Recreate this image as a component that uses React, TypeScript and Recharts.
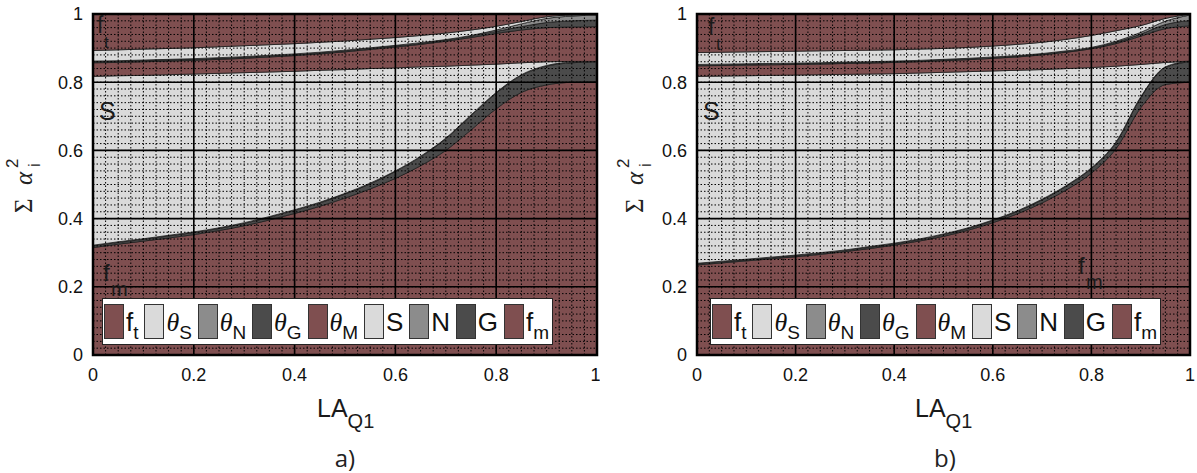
import React from "react";
import {
  ComposedChart,
  Area,
  XAxis,
  YAxis,
  CartesianGrid,
  ReferenceArea,
  ReferenceLine,
} from "recharts";

// LA_Q1 sample positions
const laQ1 = [
  0, 0.05, 0.1, 0.15, 0.2, 0.25, 0.3, 0.35, 0.4, 0.45, 0.5, 0.55, 0.6, 0.65,
  0.7, 0.75, 0.8, 0.85, 0.9, 0.95, 1,
];

const xTicks = [0, 0.2, 0.4, 0.6, 0.8, 1];
const yTicks = [0, 0.2, 0.4, 0.6, 0.8, 1];
// dotted hatch grid
const minorXTicks = Array.from({ length: 39 }, (_, i) => (i + 1) / 40);
const minorYTicks = Array.from({ length: 49 }, (_, i) => (i + 1) / 50);

// panel a) — upper edge of each stacked layer (cumulative sum of alpha^2)
const fmTopA = [0.315, 0.325, 0.334, 0.343, 0.353, 0.365, 0.379, 0.396, 0.415, 0.436, 0.46, 0.487, 0.518, 0.555, 0.6, 0.66, 0.722, 0.77, 0.792, 0.8, 0.802];
const gTopA = [0.32, 0.33, 0.339, 0.349, 0.359, 0.371, 0.386, 0.404, 0.424, 0.446, 0.472, 0.502, 0.538, 0.581, 0.634, 0.702, 0.768, 0.82, 0.847, 0.857, 0.86];
const nTopA = [0.322, 0.332, 0.341, 0.351, 0.361, 0.373, 0.388, 0.406, 0.426, 0.448, 0.474, 0.504, 0.54, 0.583, 0.636, 0.704, 0.77, 0.822, 0.849, 0.859, 0.861];
const sTopA = [0.817, 0.819, 0.82, 0.822, 0.824, 0.826, 0.828, 0.83, 0.832, 0.835, 0.837, 0.84, 0.842, 0.845, 0.847, 0.85, 0.853, 0.857, 0.86, 0.861, 0.861];
const thMTopA = [0.857, 0.858, 0.86, 0.862, 0.864, 0.867, 0.87, 0.874, 0.878, 0.883, 0.889, 0.896, 0.903, 0.911, 0.92, 0.931, 0.943, 0.953, 0.96, 0.962, 0.963];
const thGTopA = [0.86, 0.861, 0.863, 0.865, 0.867, 0.87, 0.873, 0.877, 0.881, 0.886, 0.892, 0.899, 0.906, 0.914, 0.923, 0.935, 0.949, 0.963, 0.975, 0.98, 0.982];
const thNTopA = [0.862, 0.863, 0.865, 0.867, 0.869, 0.872, 0.875, 0.879, 0.883, 0.888, 0.894, 0.901, 0.908, 0.916, 0.925, 0.937, 0.953, 0.971, 0.987, 0.994, 0.997];
const thSTopA = [0.893, 0.895, 0.897, 0.899, 0.901, 0.904, 0.907, 0.91, 0.913, 0.917, 0.921, 0.926, 0.931, 0.937, 0.944, 0.953, 0.964, 0.978, 0.992, 0.997, 0.999];

// panel b)
const fmTopB = [0.264, 0.27, 0.276, 0.282, 0.288, 0.295, 0.303, 0.312, 0.322, 0.334, 0.348, 0.366, 0.388, 0.414, 0.446, 0.485, 0.533, 0.605, 0.725, 0.793, 0.8];
const gTopB = [0.267, 0.273, 0.279, 0.285, 0.291, 0.298, 0.306, 0.316, 0.326, 0.338, 0.353, 0.371, 0.394, 0.421, 0.455, 0.496, 0.547, 0.623, 0.755, 0.843, 0.86];
const nTopB = [0.269, 0.275, 0.281, 0.287, 0.293, 0.3, 0.308, 0.318, 0.328, 0.34, 0.355, 0.373, 0.396, 0.423, 0.457, 0.498, 0.549, 0.625, 0.757, 0.845, 0.862];
const sTopB = [0.817, 0.818, 0.819, 0.82, 0.821, 0.822, 0.823, 0.824, 0.825, 0.827, 0.829, 0.831, 0.833, 0.835, 0.837, 0.84, 0.843, 0.847, 0.852, 0.858, 0.862];
const thMTopB = [0.848, 0.849, 0.85, 0.851, 0.852, 0.853, 0.855, 0.856, 0.858, 0.86, 0.863, 0.866, 0.87, 0.874, 0.88, 0.888, 0.898, 0.913, 0.935, 0.957, 0.965];
const thGTopB = [0.85, 0.851, 0.852, 0.853, 0.854, 0.855, 0.857, 0.858, 0.86, 0.862, 0.865, 0.868, 0.872, 0.876, 0.882, 0.89, 0.9, 0.917, 0.941, 0.969, 0.981];
const thNTopB = [0.852, 0.853, 0.854, 0.855, 0.856, 0.857, 0.859, 0.86, 0.862, 0.864, 0.867, 0.87, 0.874, 0.878, 0.884, 0.892, 0.902, 0.92, 0.946, 0.979, 0.997];
const thSTopB = [0.887, 0.888, 0.889, 0.89, 0.891, 0.892, 0.893, 0.894, 0.895, 0.897, 0.899, 0.902, 0.906, 0.911, 0.917, 0.926, 0.937, 0.951, 0.966, 0.987, 0.999];

const RED = "#7f4f50";
const LIGHT = "#dadada";
const MID = "#8c8c8c";
const DARK = "#4b4b4b";

// bottom to top
const layers = [
  { key: "fm", base: "f", sub: "m", greek: false, color: RED },
  { key: "g", base: "G", sub: "", greek: false, color: DARK },
  { key: "n", base: "N", sub: "", greek: false, color: MID },
  { key: "s", base: "S", sub: "", greek: false, color: LIGHT },
  { key: "thM", base: "θ", sub: "M", greek: true, color: RED },
  { key: "thG", base: "θ", sub: "G", greek: true, color: DARK },
  { key: "thN", base: "θ", sub: "N", greek: true, color: MID },
  { key: "thS", base: "θ", sub: "S", greek: true, color: LIGHT },
  { key: "ft", base: "f", sub: "t", greek: false, color: RED },
];

const buildRows = (tops: number[][]) =>
  laQ1.map((x, i) => {
    const row: any = { x };
    let lo = 0;
    layers.forEach((l, j) => {
      const hi = j < tops.length ? tops[j][i] : 1;
      row[l.key] = [lo, hi];
      lo = hi;
    });
    return row;
  });

const rowsA = buildRows([fmTopA, gTopA, nTopA, sTopA, thMTopA, thGTopA, thNTopA, thSTopA]);
const rowsB = buildRows([fmTopB, gTopB, nTopB, sTopB, thMTopB, thGTopB, thNTopB, thSTopB]);

const SANS = "'Liberation Sans', Arial, sans-serif";
const SERIF = "'Liberation Serif', 'Times New Roman', serif";
const tickStyle = { fill: "#111", fontSize: 18, fontFamily: SANS };

function Panel({ rows, width, yAxisWidth, rightMargin }: any) {
  return (
    <ComposedChart
      width={width}
      height={473}
      data={rows}
      margin={{ top: 14, right: rightMargin, bottom: 0, left: 0 }}
    >
      <XAxis
        dataKey="x"
        type="number"
        domain={[0, 1]}
        ticks={xTicks}
        height={118}
        tickSize={0}
        tickMargin={13}
        axisLine={false}
        tick={tickStyle}
      />
      <YAxis
        type="number"
        domain={[0, 1]}
        ticks={yTicks}
        width={yAxisWidth}
        tickSize={0}
        tickMargin={10}
        axisLine={false}
        tick={tickStyle}
      />

      {layers.map((l) => (
        <Area
          key={l.key}
          dataKey={l.key}
          type="monotone"
          fill={l.color}
          fillOpacity={1}
          stroke="#1e1e1e"
          strokeWidth={0.8}
          dot={false}
          activeDot={false}
          isAnimationActive={false}
        />
      ))}

      {/* dotted hatch */}
      {minorXTicks.map((v) => (
        <ReferenceLine
          key={`mx${v}`}
          x={v}
          stroke="#000"
          strokeOpacity={1}
          strokeDasharray="1.5 2"
          strokeWidth={1}
          zIndex={500}
        />
      ))}
      {minorYTicks.map((v) => (
        <ReferenceLine
          key={`my${v}`}
          y={v}
          stroke="#000"
          strokeOpacity={1}
          strokeDasharray="1.5 2"
          strokeWidth={1}
          zIndex={500}
        />
      ))}
      <CartesianGrid stroke="#000" strokeWidth={1.6} zIndex={510} />
      <ReferenceArea
        x1={0}
        x2={1}
        y1={0}
        y2={1}
        fill="none"
        stroke="#000"
        strokeWidth={2.5}
        ifOverflow="visible"
        zIndex={520}
      />
    </ComposedChart>
  );
}

function LegendBox({ left }: { left: number }) {
  const order = [...layers].reverse();
  return (
    <div
      style={{
        position: "absolute",
        left,
        top: 298,
        width: 451,
        height: 47,
        boxSizing: "border-box",
        background: "#fff",
        border: "1.5px solid #222",
        display: "flex",
        alignItems: "center",
        justifyContent: "space-between",
        padding: "0 3px 0 1px",
      }}
    >
      {order.map((l) => (
        <div key={l.key} style={{ display: "flex", alignItems: "flex-start", height: 35 }}>
          <span
            style={{
              width: 20,
              height: 35,
              background: l.color,
              border: "1px solid #333",
              boxSizing: "border-box",
              marginRight: 2,
            }}
          />
          <span
            style={{
              fontFamily: l.greek ? SERIF : SANS,
              fontStyle: l.greek ? "italic" : "normal",
              fontSize: 26,
              lineHeight: "35px",
              color: "#111",
              position: "relative",
              top: 1,
              whiteSpace: "nowrap",
            }}
          >
            {l.base}
            {l.sub && (
              <span
                style={{
                  fontFamily: SANS,
                  fontStyle: "normal",
                  fontSize: 19,
                  position: "relative",
                  top: 8,
                }}
              >
                {l.sub}
              </span>
            )}
          </span>
        </div>
      ))}
    </div>
  );
}

function Annotations() {
  const t = { fontFamily: SANS, fill: "#1a1a1a" };
  const yTitle = (bx: number) => (
    <g>
      <text transform={`translate(${bx},213) rotate(-90)`} fontFamily={SERIF} fontSize={25} fill="#222">
        Σ
      </text>
      <text transform={`translate(${bx},185) rotate(-90)`} fontFamily={SERIF} fontStyle="italic" fontSize={25} fill="#222">
        α
      </text>
      <text transform={`translate(${bx + 8},167) rotate(-90)`} fontFamily={SANS} fontSize={17} fill="#222">
        i
      </text>
      <text transform={`translate(${bx - 14},168) rotate(-90)`} fontFamily={SANS} fontSize={17} fill="#222">
        2
      </text>
    </g>
  );
  const xTitle = (x0: number) => (
    <text x={x0} y={417} {...t} fontSize={25}>
      LA
      <tspan fontSize={20} dy={11}>
        Q1
      </tspan>
    </text>
  );
  return (
    <svg
      width={1197}
      height={473}
      style={{ position: "absolute", left: 0, top: 0, pointerEvents: "none" }}
    >
      {/* panel a */}
      <text x={97} y={33} {...t} fontSize={23}>f</text>
      <text x={104} y={48} {...t} fontSize={17}>t</text>
      <text x={99} y={120} {...t} fontSize={25}>S</text>
      <text x={103} y={281} {...t} fontSize={24}>f</text>
      <text x={111} y={296} {...t} fontSize={20}>m</text>
      {yTitle(32)}
      {xTitle(317)}
      <text x={345} y={467} textAnchor="middle" fontFamily="'Open Sans', sans-serif" fontSize={24} fill="#222">
        a)
      </text>

      {/* panel b */}
      <text x={708} y={35} {...t} fontSize={23}>f</text>
      <text x={716} y={50} {...t} fontSize={17}>t</text>
      <text x={703} y={120} {...t} fontSize={25}>S</text>
      <text x={1078} y={274} {...t} fontSize={24}>f</text>
      <text x={1086} y={289} {...t} fontSize={20}>m</text>
      {yTitle(643)}
      {xTitle(915)}
      <text x={945} y={467} textAnchor="middle" fontFamily="'Open Sans', sans-serif" fontSize={24} fill="#222">
        b)
      </text>
    </svg>
  );
}

export default function App() {
  return (
    <div
      style={{
        position: "absolute",
        left: 0,
        top: 0,
        width: 1197,
        height: 473,
        background: "#fff",
        overflow: "hidden",
      }}
    >
      <div style={{ position: "absolute", left: 0, top: 0 }}>
        <Panel rows={rowsA} width={600} yAxisWidth={93} rightMargin={3} />
      </div>
      <div style={{ position: "absolute", left: 600, top: 0 }}>
        <Panel rows={rowsB} width={597} yAxisWidth={97} rightMargin={7} />
      </div>
      <LegendBox left={102} />
      <LegendBox left={710} />
      <Annotations />
    </div>
  );
}
